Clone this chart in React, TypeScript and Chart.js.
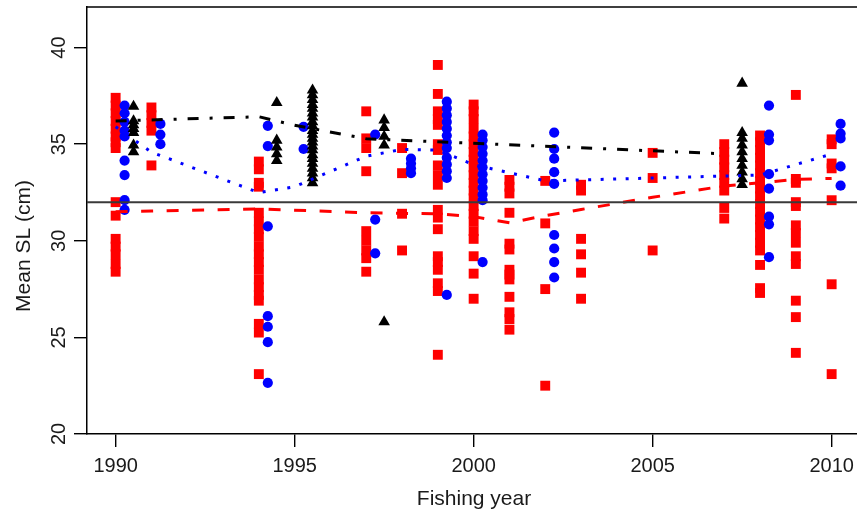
import { useEffect, useRef } from "react";
import { Chart, registerables } from "chart.js";

Chart.register(...registerables);

const FONT = '"Liberation Sans", Arial, Helvetica, sans-serif';
const TEXT_COLOR = "#1a1a1a";

// Horizontal placement of each group within a fishing year
const SQUARE_OFFSET = 0;
const CIRCLE_OFFSET = 0.25;
const TRIANGLE_OFFSET = 0.5;

// Red squares: mean SL (cm) per sample, grouped by fishing year
const SQUARE_YEARS = [1990, 1991, 1994, 1997, 1998, 1999, 2000, 2001, 2002, 2003, 2005, 2007, 2008, 2009, 2010];
const SQUARE_SL = [
  [37.4, 37.0, 36.6, 36.2, 35.8, 35.4, 35.1, 34.8, 32.0, 31.3, 30.1, 29.7, 29.3, 28.8, 28.4],
  [36.9, 36.5, 36.1, 35.7, 33.9],
  [34.1, 33.7, 33.0, 32.8, 31.45, 31.0, 30.6, 30.2, 29.7, 29.3, 28.9, 28.5, 28.0, 27.6, 27.2, 26.9, 25.7, 25.25, 23.1],
  [36.7, 35.3, 34.8, 33.6, 30.5, 30.0, 29.5, 29.1, 28.4],
  [34.8, 33.5, 31.4, 29.5],
  [39.1, 37.6, 36.7, 36.3, 36.0, 35.0, 34.7, 33.9, 33.4, 32.9, 31.6, 31.2, 30.6, 29.2, 28.9, 28.5, 27.8, 27.4, 24.1],
  [37.05, 36.7, 36.3, 35.8, 35.4, 35.0, 34.6, 34.2, 33.8, 33.4, 33.0, 32.6, 32.2, 31.8, 31.4, 31.0, 30.5, 30.1, 29.2, 28.3, 27.0],
  [33.15, 32.8, 32.45, 31.45, 29.85, 29.55, 28.5, 28.25, 28.0, 27.1, 26.3, 25.95, 25.4],
  [33.1, 30.9, 27.5, 22.5],
  [32.9, 32.6, 30.1, 29.3, 28.35, 27.0],
  [34.55, 33.25, 29.5],
  [35.0, 34.6, 34.2, 33.8, 33.4, 33.0, 32.6, 31.7, 31.15],
  [35.45, 35.1, 34.7, 34.3, 33.9, 33.5, 33.1, 32.7, 32.3, 31.9, 31.5, 31.1, 30.7, 30.3, 29.9, 29.5, 28.75, 27.55, 27.3],
  [37.55, 33.2, 33.0, 32.0, 31.8, 30.8, 30.4, 29.9, 29.2, 28.8, 26.9, 26.05, 24.2],
  [35.25, 35.0, 34.0, 33.75, 32.1, 27.75, 23.1],
];

// Blue circles
const CIRCLE_YEARS = [1990, 1991, 1994, 1995, 1997, 1998, 1999, 2000, 2002, 2008, 2010];
const CIRCLE_SL = [
  [37.0, 36.6, 36.15, 35.7, 35.4, 34.15, 33.4, 32.1, 31.6],
  [36.05, 35.5, 35.0],
  [35.95, 34.9, 30.75, 26.1, 25.55, 24.75, 22.65],
  [35.9, 34.75],
  [35.5, 31.1, 29.35],
  [34.25, 34.0, 33.75, 33.5],
  [37.2, 36.85, 36.5, 36.15, 35.8, 35.45, 35.1, 34.8, 34.3, 33.95, 33.6, 33.25, 27.2],
  [35.5, 35.2, 34.85, 34.5, 34.15, 33.8, 33.45, 33.1, 32.75, 32.4, 32.1, 28.9],
  [35.6, 34.75, 34.25, 33.55, 32.95, 30.3, 29.6, 28.9, 28.1],
  [37.0, 35.5, 35.2, 33.45, 32.7, 31.25, 30.85, 29.15],
  [36.05, 35.55, 35.3, 33.85, 32.85],
];

// Black triangles
const TRIANGLE_YEARS = [1990, 1994, 1995, 1997, 2007];
const TRIANGLE_SL = [
  [36.95, 36.2, 36.0, 35.8, 35.6, 34.95, 34.6],
  [37.15, 35.2, 34.85, 34.5, 34.15],
  [37.8, 37.55, 37.3, 37.05, 36.85, 36.6, 36.4, 36.15, 35.95, 35.7, 35.5, 35.3, 35.1, 34.9, 34.7, 34.45, 34.25, 34.0, 33.75, 33.5, 33.25, 33.0],
  [36.25, 35.85, 35.4, 34.95, 25.8],
  [38.15, 35.6, 35.3, 34.95, 34.6, 34.25, 33.9, 33.55, 33.2, 32.9],
];

// Yearly trend lines for each group
const SQUARE_TREND_YEARS = [1990, 1991, 1994, 1997, 1998, 1999, 2000, 2001, 2002, 2003, 2005, 2007, 2008, 2009, 2010];
const SQUARE_TREND_SL = [31.5, 31.54, 31.65, 31.45, 31.42, 31.4, 31.25, 30.93, 31.3, 31.62, 32.25, 32.84, 33.0, 33.18, 33.23];

const CIRCLE_TREND_YEARS = [1990, 1991, 1994, 1995, 1997, 1998, 1999, 2000, 2002, 2008, 2010];
const CIRCLE_TREND_SL = [35.9, 34.59, 32.49, 32.8, 34.38, 34.73, 34.69, 33.94, 33.1, 33.4, 34.49];

const TRIANGLE_TREND_YEARS = [1990, 1994, 1995, 1997, 2007];
const TRIANGLE_TREND_SL = [36.2, 36.42, 35.98, 35.28, 34.5];

const REFERENCE_SL = 32;

const X_TICKS = [1990, 1995, 2000, 2005, 2010];
const Y_TICKS = [20, 25, 30, 35, 40];
const X_MIN = 1989.2;
const X_MAX = 2010.82;
const Y_MIN = 20;
const Y_MAX = 42.1;

const Y_TITLE = "Mean SL (cm)";
const X_TITLE = "Fishing year";

const CANVAS_W = 900;
const CANVAS_H = 513;

type Pt = { x: number; y: number };

const groupPoints = (years: number[], values: number[][], offset: number): Pt[] =>
  years.flatMap((yr, i) => values[i].map((v) => ({ x: yr + offset, y: v })));

const trendPoints = (years: number[], values: number[]): Pt[] =>
  years.map((yr, i) => ({ x: yr, y: values[i] }));

// Draws the top and right edges of the plot frame, the vertical y tick labels
// and the y axis title
const frameAndLabels = {
  id: "frameAndLabels",
  afterDraw(chart: any) {
    const { ctx, chartArea, scales } = chart;
    ctx.save();
    ctx.strokeStyle = "#000";
    ctx.lineWidth = 1.5;
    ctx.beginPath();
    ctx.moveTo(chartArea.left - 0.75, chartArea.top);
    ctx.lineTo(chartArea.right, chartArea.top);
    ctx.lineTo(chartArea.right, chartArea.bottom);
    ctx.stroke();

    const yScale = scales.y;
    ctx.fillStyle = TEXT_COLOR;
    ctx.font = `20px ${FONT}`;
    ctx.textAlign = "center";
    ctx.textBaseline = "alphabetic";
    for (const t of yScale.ticks) {
      const py = yScale.getPixelForValue(t.value);
      ctx.save();
      ctx.translate(65, py);
      ctx.rotate(-Math.PI / 2);
      ctx.fillText(String(t.value), 0, 0);
      ctx.restore();
    }

    ctx.font = `21px ${FONT}`;
    ctx.save();
    ctx.translate(29.5, 246);
    ctx.rotate(-Math.PI / 2);
    ctx.fillText(Y_TITLE, 0, 0);
    ctx.restore();

    ctx.restore();
  },
};

export default function App() {
  const canvasRef = useRef<HTMLCanvasElement | null>(null);

  useEffect(() => {
    const canvas = canvasRef.current;
    if (!canvas) return;

    const chart = new Chart(canvas, {
      type: "scatter",
      data: {
        datasets: [
          {
            label: "Reference",
            data: [
              { x: X_MIN, y: REFERENCE_SL },
              { x: X_MAX, y: REFERENCE_SL },
            ],
            showLine: true,
            borderColor: "#3a3a3a",
            borderWidth: 2,
            pointRadius: 0,
            order: 0,
          },
          {
            label: "Triangle trend",
            data: trendPoints(TRIANGLE_TREND_YEARS, TRIANGLE_TREND_SL),
            showLine: true,
            borderColor: "#000000",
            borderWidth: 3,
            borderDash: [11, 11, 3, 11],
            pointRadius: 0,
            tension: 0,
            order: 1,
          },
          {
            label: "Circle trend",
            data: trendPoints(CIRCLE_TREND_YEARS, CIRCLE_TREND_SL),
            showLine: true,
            borderColor: "#0000ff",
            borderWidth: 3,
            borderDash: [3, 9.5],
            pointRadius: 0,
            tension: 0,
            order: 2,
          },
          {
            label: "Square trend",
            data: trendPoints(SQUARE_TREND_YEARS, SQUARE_TREND_SL),
            showLine: true,
            borderColor: "#ff0000",
            borderWidth: 3,
            borderDash: [12, 13.5],
            pointRadius: 0,
            tension: 0,
            order: 3,
          },
          {
            label: "Triangles",
            data: groupPoints(TRIANGLE_YEARS, TRIANGLE_SL, TRIANGLE_OFFSET),
            pointStyle: "triangle",
            pointRadius: 6.7,
            pointBackgroundColor: "#000000",
            pointBorderWidth: 0,
            showLine: false,
            order: 4,
          },
          {
            label: "Circles",
            data: groupPoints(CIRCLE_YEARS, CIRCLE_SL, CIRCLE_OFFSET),
            pointStyle: "circle",
            pointRadius: 5.1,
            pointBackgroundColor: "#0000ff",
            pointBorderWidth: 0,
            showLine: false,
            order: 5,
          },
          {
            label: "Squares",
            data: groupPoints(SQUARE_YEARS, SQUARE_SL, SQUARE_OFFSET),
            pointStyle: "rect",
            pointRadius: 7,
            pointBackgroundColor: "#ff0000",
            pointBorderWidth: 0,
            showLine: false,
            order: 6,
          },
        ],
      },
      options: {
        animation: false,
        responsive: false,
        maintainAspectRatio: false,
        devicePixelRatio: 1,
        events: [],
        layout: { padding: { top: 7, right: 39, left: 0, bottom: 0 } },
        plugins: {
          legend: { display: false },
          tooltip: { enabled: false },
        },
        scales: {
          x: {
            type: "linear",
            min: X_MIN,
            max: X_MAX,
            afterBuildTicks: (scale: any) => {
              scale.ticks = X_TICKS.map((v) => ({ value: v }));
            },
            afterFit: (scale: any) => {
              scale.height = 79;
            },
            ticks: {
              autoSkip: false,
              maxRotation: 0,
              minRotation: 0,
              padding: 7,
              color: TEXT_COLOR,
              font: { family: FONT, size: 20 },
              callback: (v: any) => String(v),
            },
            grid: {
              display: true,
              drawOnChartArea: false,
              drawTicks: true,
              tickLength: 13,
              color: "#000",
              lineWidth: 1.4,
            },
            border: { display: true, color: "#000", width: 1.5 },
            title: {
              display: true,
              text: X_TITLE,
              color: TEXT_COLOR,
              font: { family: FONT, size: 21 },
              padding: { top: 0, bottom: 1 },
            },
          },
          y: {
            type: "linear",
            min: Y_MIN,
            max: Y_MAX,
            afterBuildTicks: (scale: any) => {
              scale.ticks = Y_TICKS.map((v) => ({ value: v }));
            },
            afterFit: (scale: any) => {
              scale.width = 87;
            },
            ticks: { display: false },
            grid: {
              display: true,
              drawOnChartArea: false,
              drawTicks: true,
              tickLength: 13,
              color: "#000",
              lineWidth: 1.4,
            },
            border: { display: true, color: "#000", width: 1.5 },
            title: { display: false },
          },
        },
      },
      plugins: [frameAndLabels],
    });

    return () => chart.destroy();
  }, []);

  return (
    <div
      style={{
        position: "fixed",
        left: 0,
        top: 0,
        width: 857,
        height: 513,
        overflow: "hidden",
        background: "#ffffff",
      }}
    >
      <canvas
        ref={canvasRef}
        width={CANVAS_W}
        height={CANVAS_H}
        style={{ display: "block", width: CANVAS_W, height: CANVAS_H }}
      />
    </div>
  );
}
